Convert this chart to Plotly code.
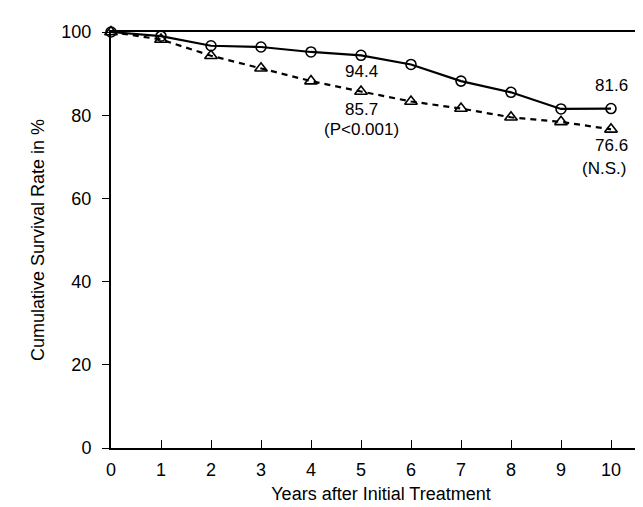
import plotly.graph_objects as go

years = [0, 1, 2, 3, 4, 5, 6, 7, 8, 9, 10]
group_circle = [100, 99.0, 96.7, 96.4, 95.2, 94.4, 92.2, 88.2, 85.5, 81.5, 81.6]
group_triangle = [100, 98.2, 94.3, 91.3, 88.2, 85.7, 83.3, 81.6, 79.5, 78.4, 76.6]
x_ticks = list(range(0, 11))
y_ticks = [0, 20, 40, 60, 80, 100]

FONT = "Liberation Sans, Arial, Helvetica, sans-serif"

fig = go.Figure()
fig.add_trace(go.Scatter(
    x=years, y=group_triangle, mode="lines+markers",
    line=dict(color="black", width=2.2, dash="6px,5px"),
    marker=dict(symbol="triangle-up-open", size=11, color="black", line=dict(width=1.6)),
    cliponaxis=False, showlegend=False))
fig.add_trace(go.Scatter(
    x=years, y=group_circle, mode="lines+markers",
    line=dict(color="black", width=2.2),
    marker=dict(symbol="circle-open", size=10, color="black", line=dict(width=1.6)),
    cliponaxis=False, showlegend=False))

tf = dict(family=FONT, size=17, color="black")
annos = [
    (5, 90.6, f"{group_circle[5]}"),
    (5, 81.3, f"{group_triangle[5]}"),
    (5, 76.5, "(P<0.001)"),
    (10, 87.1, f"{group_circle[10]}"),
    (10, 72.7, f"{group_triangle[10]}"),
    (9.86, 67.1, "(N.S.)"),
]
for x, y, t in annos:
    fig.add_annotation(x=x, y=y, text=t, showarrow=False, font=tf,
                       xanchor="center", yanchor="middle")

fig.update_layout(
    width=643, height=507,
    margin=dict(l=103, r=0, t=24, b=67),
    paper_bgcolor="white", plot_bgcolor="white",
    font=dict(family=FONT, size=18, color="black"),
    xaxis=dict(range=[0, 10.8], tickvals=x_ticks, ticks="inside", ticklen=8,
               tickwidth=1.3, tickcolor="black", showline=True, linecolor="black",
               linewidth=2, mirror=True, showgrid=False, zeroline=False,
               ticklabelstandoff=4,
               title=dict(text="Years after Initial Treatment", standoff=9,
                          font=dict(size=18)),
               tickfont=dict(size=18)),
    yaxis=dict(range=[0, 100], tickvals=y_ticks, ticks="outside", ticklen=7,
               tickwidth=1.3, tickcolor="black", showline=True, linecolor="black",
               linewidth=2, showgrid=False, zeroline=False,
               ticklabelstandoff=7,
               title=dict(text="Cumulative Survival Rate in %", standoff=12,
                          font=dict(size=18)),
               tickfont=dict(size=18)),
)
fig.write_html("out.html")
